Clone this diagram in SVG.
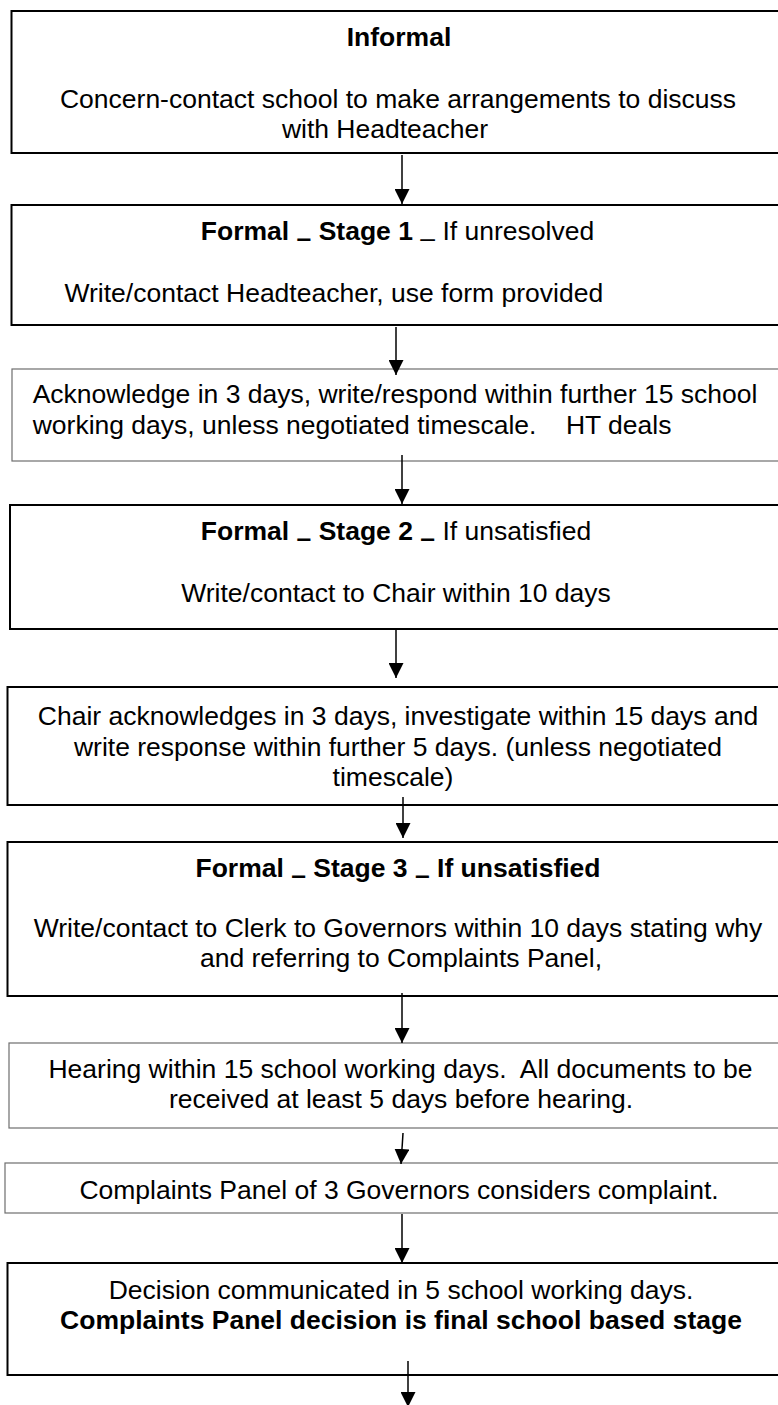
<svg xmlns="http://www.w3.org/2000/svg" width="778" height="1405" viewBox="0 0 778 1405">
<style>
  .bx { fill: #ffffff; stroke: #000000; stroke-width: 2; }
  .bt { fill: #ffffff; stroke: #6e6e6e; stroke-width: 1.2; }
  text { font-family: "Liberation Sans", Arial, sans-serif; font-size: 26.5px; fill: #000000; }
  .m { text-anchor: middle; }
  .b { font-weight: bold; }
  .cn { fill: none; stroke: #000000; stroke-width: 1.5; marker-end: url(#ah); }
</style>
<defs>
  <marker id="ah" markerUnits="userSpaceOnUse" markerWidth="15" markerHeight="15" refX="15" refY="7.5" orient="auto" viewBox="0 0 15 15">
    <path d="M0,0 L15,7.5 L0,15 Z" fill="#000000"/>
  </marker>
</defs>
<rect width="778" height="1405" fill="#ffffff"/>

<g id="informal">
  <rect class="bx" x="11.5" y="11" width="800" height="142"/>
  <text class="m b" x="399" y="46">Informal</text>
  <text class="m" x="398" y="108">Concern-contact school to make arrangements to discuss</text>
  <text class="m" x="385" y="138">with Headteacher</text>
</g>

<g id="stage1">
  <rect class="bx" x="11.5" y="205" width="800" height="120"/>
  <text class="m" x="397.5" y="240"><tspan class="b">Formal </tspan><tspan class="b" dy="7">–</tspan><tspan class="b" dy="-7"> Stage 1 </tspan><tspan dy="7">–</tspan><tspan dy="-7"> If unresolved</tspan></text>
  <text x="64.5" y="302">Write/contact Headteacher, use form provided</text>
</g>

<g id="acknowledge">
  <rect class="bt" x="12" y="369" width="800" height="92"/>
  <text x="32.7" y="403">Acknowledge in 3 days, write/respond within further 15 school</text>
  <text x="32.7" y="434" xml:space="preserve">working days, unless negotiated timescale.    HT deals</text>
</g>

<g id="stage2">
  <rect class="bx" x="10" y="505" width="800" height="124"/>
  <text class="m" x="396" y="540"><tspan class="b">Formal </tspan><tspan class="b" dy="7">–</tspan><tspan class="b" dy="-7"> Stage 2 </tspan><tspan class="b" dy="7">–</tspan><tspan dy="-7"> If unsatisfied</tspan></text>
  <text class="m" x="396" y="602">Write/contact to Chair within 10 days</text>
</g>

<g id="chair">
  <rect class="bx" x="7.5" y="687" width="800" height="118"/>
  <text class="m" x="398" y="725">Chair acknowledges in 3 days, investigate within 15 days and</text>
  <text class="m" x="398" y="755.5">write response within further 5 days. (unless negotiated</text>
  <text class="m" x="393" y="786">timescale)</text>
</g>

<g id="stage3">
  <rect class="bx" x="7.5" y="842" width="800" height="154"/>
  <text class="m b" x="398" y="877">Formal <tspan dy="7">–</tspan><tspan dy="-7"> Stage 3 </tspan><tspan dy="7">–</tspan><tspan dy="-7"> If unsatisfied</tspan></text>
  <text class="m" x="398" y="937">Write/contact to Clerk to Governors within 10 days stating why</text>
  <text class="m" x="401" y="967">and referring to Complaints Panel,</text>
</g>

<g id="hearing">
  <rect class="bt" x="9" y="1043" width="800" height="85"/>
  <text class="m" x="400.5" y="1078" xml:space="preserve">Hearing within 15 school working days.  All documents to be</text>
  <text class="m" x="401" y="1108">received at least 5 days before hearing.</text>
</g>

<g id="panel">
  <rect class="bt" x="5" y="1163" width="800" height="50"/>
  <text class="m" x="399" y="1199">Complaints Panel of 3 Governors considers complaint.</text>
</g>

<g id="decision">
  <rect class="bx" x="7.5" y="1263" width="800" height="112"/>
  <text class="m" x="401" y="1299">Decision communicated in 5 school working days.</text>
  <text class="m b" x="401" y="1329">Complaints Panel decision is final school based stage</text>
</g>

<g id="connectors">
  <line class="cn" x1="402" y1="155" x2="402" y2="204"/>
  <line class="cn" x1="396" y1="327" x2="396" y2="375"/>
  <line class="cn" x1="402" y1="455" x2="402" y2="504"/>
  <line class="cn" x1="396" y1="630" x2="396" y2="678"/>
  <line class="cn" x1="403" y1="797" x2="403" y2="838"/>
  <line class="cn" x1="402" y1="993" x2="402" y2="1043"/>
  <line class="cn" x1="403" y1="1133" x2="401" y2="1164"/>
  <line class="cn" x1="402" y1="1214" x2="402" y2="1263"/>
  <line class="cn" x1="408" y1="1361" x2="408" y2="1407"/>
</g>
</svg>
